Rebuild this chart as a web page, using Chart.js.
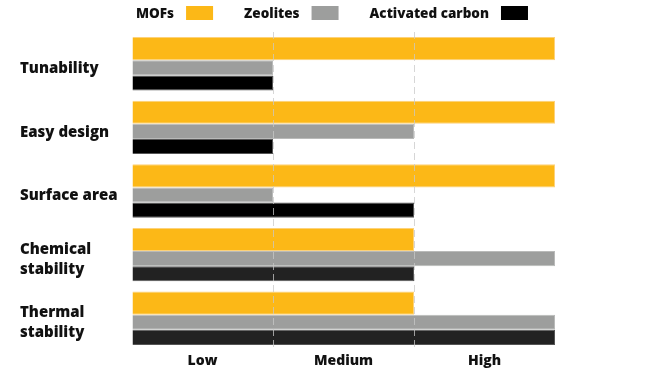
<!DOCTYPE html>
<html>
<head>
<meta charset="utf-8">
<script src="https://cdn.jsdelivr.net/npm/chart.js@4.4.1/dist/chart.umd.min.js"></script>
<style>
    html, body { margin: 0; padding: 0; background: #fff; }
    #wrap { width: 669px; height: 376px; }
</style>
</head>
<body>
<div id="wrap"><canvas id="materialsChart"></canvas></div>
<script>
const categories = ['Tunability', 'Easy design', 'Surface area', ['Chemical', 'stability'], ['Thermal', 'stability']];
const levelLabels = ['Low', 'Medium', 'High'];
const seriesNames = ['MOFs', 'Zeolites', 'Activated carbon'];
const mofValues = [3, 3, 3, 2, 2];
const zeoliteValues = [1, 2, 1, 3, 3];
const carbonValues = [1, 1, 2, 2, 3];

// relative bar thickness inside each group (MOFs bar is thicker)
const barShares = [23, 15, 15];
const groupPercent = 0.84;

const FONT = '"Open Sans", "DejaVu Sans", sans-serif';

// make bars of one group touch, with the first one thicker
const groupThickness = {
    id: 'groupThickness',
    afterDatasetsUpdate(chart) {
        const y = chart.scales.y;
        const step = y.height / categories.length;
        const group = step * groupPercent;
        const total = barShares.reduce((a, b) => a + b, 0);
        chart.data.datasets.forEach((ds, di) => {
            const meta = chart.getDatasetMeta(di);
            const before = barShares.slice(0, di).reduce((a, b) => a + b, 0);
            const h = group * barShares[di] / total;
            meta.data.forEach((bar, i) => {
                const c = y.getPixelForValue(i);
                bar.y = c - group / 2 + group * before / total + h / 2;
                bar.height = h;
            });
        });
    }
};

// legend with the text first and the colour box after it
const textFirstLegend = {
    id: 'textFirstLegend',
    afterDraw(chart) {
        const ctx = chart.ctx;
        ctx.save();
        ctx.font = '800 13.5px ' + FONT;
        ctx.textBaseline = 'middle';
        ctx.textAlign = 'left';
        let x = 136;
        chart.data.datasets.forEach(ds => {
            ctx.fillStyle = '#111';
            ctx.fillText(ds.label, x, 14.5);
            x += ctx.measureText(ds.label).width + 12;
            ctx.fillStyle = ds.legendColor;
            ctx.fillRect(x, 6, 27, 14);
            x += 27 + 31;
        });
        ctx.restore();
    }
};

const ctx = document.getElementById('materialsChart').getContext('2d');
const materialsChart = new Chart(ctx, {
    type: 'bar',
    data: {
        labels: categories,
        datasets: [{
            label: seriesNames[0],
            data: mofValues,
            backgroundColor: '#FCB817',
            legendColor: '#FCB817',
            borderColor: '#FDD27A',
            borderWidth: 1
        }, {
            label: seriesNames[1],
            data: zeoliteValues,
            backgroundColor: '#9D9E9D',
            legendColor: '#9D9E9D',
            borderColor: '#B9BAB9',
            borderWidth: 1
        }, {
            label: seriesNames[2],
            data: carbonValues,
            backgroundColor: ['#000000', '#000000', '#000000', '#222222', '#222222'],
            legendColor: '#000000',
            borderColor: '#555555',
            borderWidth: 1
        }]
    },
    options: {
        indexAxis: 'y',
        responsive: true,
        maintainAspectRatio: false,
        animation: false,
        events: [],
        layout: {
            padding: { top: 32, left: 20, right: 114, bottom: 0 }
        },
        scales: {
            x: {
                min: 0,
                max: 3,
                ticks: { display: false, stepSize: 1 },
                grid: {
                    z: 1,
                    drawTicks: false,
                    lineWidth: 1,
                    color: function(c) {
                        return (c.tick && (c.tick.value === 1 || c.tick.value === 2))
                            ? 'rgba(200, 200, 200, 0.75)' : 'rgba(0,0,0,0)';
                    }
                },
                border: { display: false, dash: [7, 4] },
                afterFit: function(scale) { scale.height = 0; }
            },
            levels: {
                type: 'category',
                position: 'bottom',
                labels: levelLabels,
                offset: true,
                grid: { display: false, drawTicks: false },
                border: { display: false },
                ticks: {
                    color: '#111',
                    padding: 3,
                    font: { family: FONT, size: 14, weight: 800 }
                },
                afterFit: function(scale) { scale.height = 26; }
            },
            y: {
                grid: { display: false },
                border: { display: false },
                ticks: {
                    crossAlign: 'far',
                    labelOffset: 5,
                    color: '#111',
                    font: { family: FONT, size: 15, weight: 800, lineHeight: 1.33 }
                },
                afterFit: function(scale) { scale.width = 112; }
            }
        },
        plugins: {
            legend: { display: false },
            tooltip: { enabled: false }
        }
    },
    plugins: [groupThickness, textFirstLegend]
});
</script>
</body>
</html>
